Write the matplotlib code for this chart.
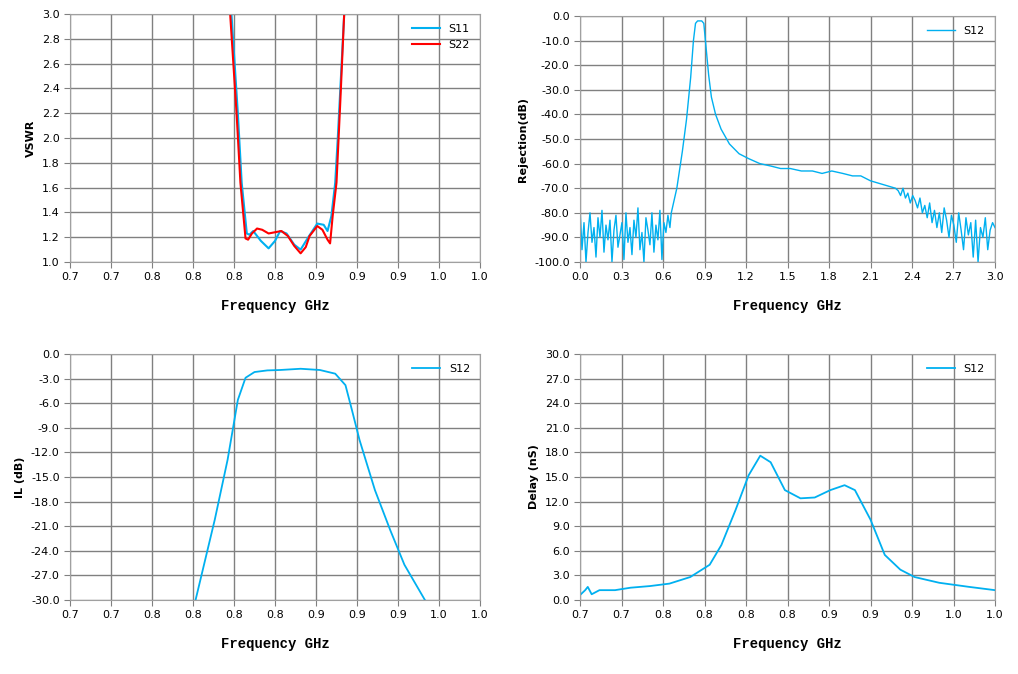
import numpy as np
import matplotlib.pyplot as plt
from matplotlib.ticker import FormatStrFormatter

BLUE = '#00b0f0'
RED = '#ff0000'

# VSWR data (GHz, VSWR)
s11_f = [0.816, 0.821, 0.824, 0.828, 0.830, 0.833, 0.839, 0.845, 0.850, 0.854, 0.859, 0.865, 0.870,
         0.876, 0.883, 0.888, 0.891, 0.894, 0.897, 0.899, 0.902, 0.904]
s11_v = [3.0, 2.2, 1.64, 1.23, 1.22, 1.25, 1.17, 1.11, 1.17, 1.25, 1.23, 1.14, 1.10,
         1.20, 1.31, 1.30, 1.25, 1.37, 1.64, 2.0, 2.6, 3.0]
s22_f = [0.815, 0.820, 0.823, 0.827, 0.829, 0.832, 0.836, 0.840, 0.845, 0.850, 0.855, 0.860, 0.865,
         0.870, 0.874, 0.877, 0.883, 0.887, 0.891, 0.893, 0.895, 0.898, 0.901, 0.904]
s22_v = [3.0, 2.2, 1.64, 1.19, 1.18, 1.23, 1.27, 1.26, 1.23, 1.24, 1.25, 1.21, 1.13,
         1.07, 1.12, 1.21, 1.29, 1.26, 1.18, 1.15, 1.37, 1.64, 2.3, 3.0]

# Rejection data (GHz, dB)
rej_f_low = list(np.round(np.linspace(0.0, 0.65, 46), 4))
rej_v_low = [-78, -95, -84, -100, -88, -80, -92, -86, -98, -82, -90, -79, -96, -85, -91, -83,
             -100, -87, -81, -94, -89, -84, -99, -80, -92, -86, -97, -83, -90, -78, -95, -88,
             -100, -82, -87, -93, -80, -96, -85, -91, -79, -99, -84, -88, -81, -86]
rej_f_mid = [0.66, 0.70, 0.74, 0.77, 0.80, 0.82, 0.835, 0.85, 0.88, 0.895, 0.91, 0.93, 0.95, 0.98,
             1.02, 1.08, 1.15, 1.22, 1.30, 1.38, 1.45, 1.52, 1.60, 1.68, 1.75, 1.82, 1.90, 1.97,
             2.03, 2.10, 2.16, 2.22, 2.28]
rej_v_mid = [-80, -70, -55, -42, -25, -10, -3, -2, -2, -3, -12, -24, -33, -40,
             -46, -52, -56, -58, -60, -61, -62, -62, -63, -63, -64, -63, -64, -65,
             -65, -67, -68, -69, -70]
rej_f_high = list(np.round(np.linspace(2.30, 3.0, 41), 4))
rej_v_high = [-71, -73, -70, -74, -72, -76, -73, -75, -78, -74, -80, -77, -82, -76, -84, -79,
              -86, -80, -88, -78, -83, -90, -81, -85, -92, -80, -87, -95, -82, -89, -84, -98,
              -83, -100, -86, -90, -82, -95, -87, -84, -86]
rej_f = rej_f_low + rej_f_mid + rej_f_high
rej_v = rej_v_low + rej_v_mid + rej_v_high

# Insertion loss (GHz, dB)
il_f = [0.788, 0.803, 0.813, 0.821, 0.827, 0.834, 0.844, 0.854, 0.870, 0.885, 0.897, 0.905,
        0.910, 0.916, 0.928, 0.940, 0.951, 0.967]
il_v = [-30, -20.2, -12.9, -5.6, -2.9, -2.2, -2.0, -1.95, -1.8, -1.95, -2.4, -3.8,
        -6.8, -10.5, -16.6, -21.5, -25.7, -30]

# Group delay (GHz, nS)
gd_f = [0.690, 0.694, 0.696, 0.699, 0.705, 0.717, 0.729, 0.744, 0.759, 0.775, 0.790, 0.799,
        0.810, 0.820, 0.829, 0.837, 0.848, 0.860, 0.871, 0.883, 0.894, 0.902, 0.914, 0.925,
        0.937, 0.948, 0.967, 0.990, 1.010]
gd_v = [0.6, 1.2, 1.6, 0.7, 1.2, 1.2, 1.5, 1.7, 2.0, 2.8, 4.3, 6.7,
        11.0, 15.2, 17.6, 16.8, 13.4, 12.4, 12.5, 13.4, 14.0, 13.4, 9.8, 5.5,
        3.7, 2.8, 2.1, 1.6, 1.2]

fig = plt.figure(figsize=(10.18, 6.74), dpi=100)
W, H = 1018, 674


def make_ax(x0, y0, x1, y1):
    ax = fig.add_axes([x0 / W, 1 - y1 / H, (x1 - x0) / W, (y1 - y0) / H])
    ax.grid(True, color='#808080', linewidth=1)
    ax.set_axisbelow(True)
    for s in ax.spines.values():
        s.set_color('#a0a0a0')
    ax.tick_params(labelsize=8, length=4, color='#808080')
    ax.set_xlabel('Frequency GHz', family='Liberation Mono', fontweight='bold', fontsize=10, labelpad=12)
    return ax


fx = np.linspace(0.69, 1.01, 11)

ax1 = make_ax(70, 14, 480, 262)
ax1.plot(s11_f, s11_v, color=BLUE, lw=1.5, label='S11')
ax1.plot(s22_f, s22_v, color=RED, lw=1.5, label='S22')
ax1.set_xlim(0.69, 1.01)
ax1.set_ylim(1.0, 3.0)
ax1.set_xticks(fx)
ax1.set_yticks(np.arange(1.0, 3.01, 0.2))
ax1.set_ylabel('VSWR', fontweight='bold', fontsize=8)

ax2 = make_ax(580, 16, 995, 262)
ax2.plot(rej_f, rej_v, color=BLUE, lw=1, label='S12')
ax2.set_xlim(0, 3.0)
ax2.set_ylim(-100, 0)
ax2.set_xticks(np.arange(0, 3.01, 0.3))
ax2.set_yticks(np.arange(-100, 1, 10))
ax2.set_ylabel('Rejection(dB)', fontweight='bold', fontsize=8)

ax3 = make_ax(70, 354, 480, 600)
ax3.plot(il_f, il_v, color=BLUE, lw=1.3, label='S12')
ax3.set_xlim(0.69, 1.01)
ax3.set_ylim(-30, 0)
ax3.set_xticks(fx)
ax3.set_yticks(np.arange(-30, 1, 3))
ax3.set_ylabel('IL (dB)', fontweight='bold', fontsize=8)

ax4 = make_ax(580, 354, 995, 600)
ax4.plot(gd_f, gd_v, color=BLUE, lw=1.3, label='S12')
ax4.set_xlim(0.69, 1.01)
ax4.set_ylim(0, 30)
ax4.set_xticks(fx)
ax4.set_yticks(np.arange(0, 30.1, 3))
ax4.set_ylabel('Delay (nS)', fontweight='bold', fontsize=8)

for ax in (ax1, ax2, ax3, ax4):
    ax.xaxis.set_major_formatter(FormatStrFormatter('%.1f'))
    ax.yaxis.set_major_formatter(FormatStrFormatter('%.1f'))
    ax.legend(loc='upper right', frameon=False, fontsize=8, handlelength=2.5)

fig.savefig('out.png', dpi=100)
